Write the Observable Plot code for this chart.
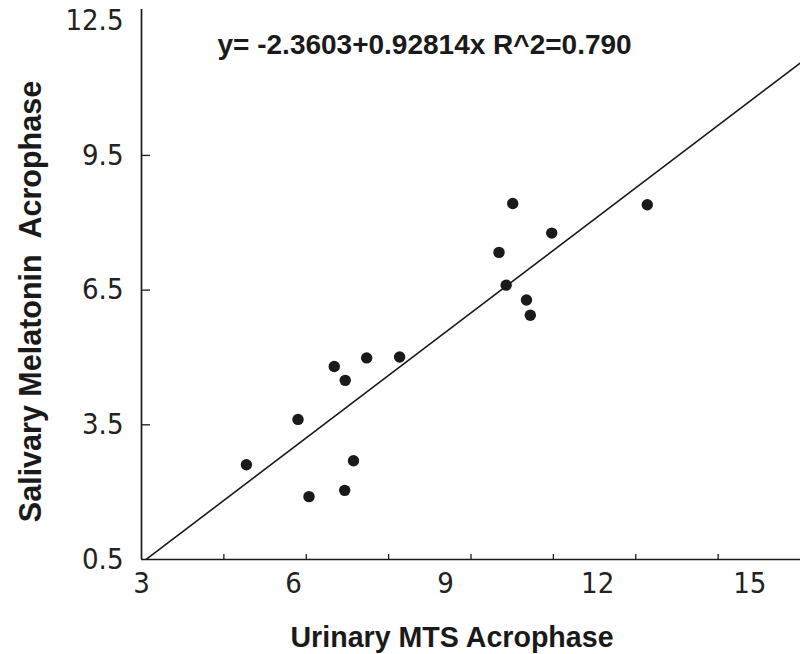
<!DOCTYPE html>
<html>
<head>
<meta charset="utf-8">
<script src="https://cdn.jsdelivr.net/npm/d3@7"></script>
<script src="https://cdn.jsdelivr.net/npm/@observablehq/plot@0.6"></script>
<style>
  body { margin: 0; background: #fff; }
  #chart svg { display: block; }
</style>
</head>
<body>
<div id="chart"></div>
<script>
// Data
const urinaryMTS  = [4.91, 5.85, 6.05, 6.51, 6.71, 6.70, 6.86, 7.10, 7.70, 9.51, 9.76, 9.64, 10.01, 10.08, 10.47, 12.21];
const salivaryMel = [2.61, 3.62, 1.90, 4.80, 4.49, 2.04, 2.70, 4.99, 5.01, 7.34, 8.43, 6.61, 6.28, 5.94, 7.77, 8.40];

const xTickMarks  = [4.5, 6, 7.5, 9, 10.5, 12, 13.5];
const xTickLabels = [3, 6, 9, 12, 15];
const yTickMarks  = [3.5, 6.5, 9.5];
const yTickLabels = [0.5, 3.5, 6.5, 9.5, 12.5];

const intercept = -2.3603;
const slope = 0.92814;
const rSquared = "0.790";
const fitRange = [3, 15];

const xTitle = "Urinary MTS Acrophase";
const yTitle = "Salivary Melatonin\u00a0 Acrophase";
const equation = `y= ${intercept}+${slope}x R^2=${rSquared}`;

// Build tables
const points = urinaryMTS.map((x, i) => ({x, y: salivaryMel[i]}));
const fit = fitRange.map(x => ({x, y: intercept + slope * x}));

const ink = "#1a1a1a";
const narrow = "'Liberation Sans Narrow', 'DejaVu Sans Condensed', 'Liberation Sans', sans-serif";
const boldFont = "'Liberation Sans', Arial, Helvetica, sans-serif";
const labelSpread = 0.923; // the reference's x labels drift left of their ticks

const chart = Plot.plot({
  width: 800,
  height: 654,
  marginLeft: 141,
  marginRight: 0,
  marginTop: 9,
  marginBottom: 95,
  x: {domain: [3, 15]},
  y: {domain: [0.5, 12.75]},
  style: {background: "#fff", color: ink},
  marks: [
    Plot.ruleX([3], {stroke: ink, strokeWidth: 1.7}),
    Plot.ruleY([0.5], {stroke: ink, strokeWidth: 1.7}),
    Plot.axisX({ticks: xTickMarks, tickSize: -5, tickFormat: () => "", color: ink, strokeWidth: 1.3, label: null}),
    Plot.axisY({ticks: yTickMarks, tickSize: -9, tickFormat: () => "", color: ink, strokeWidth: 1.3, label: null}),
    Plot.axisY({ticks: yTickLabels, tickSize: 0, tickPadding: 18, fontSize: 29, fontFamily: narrow,
                color: "#222", label: null, tickFormat: d => d.toFixed(1)}),
    Plot.text(xTickLabels, {
      x: d => 3 + (d - 3) * labelSpread, y: 0.5, dy: 24, text: d => String(d),
      fontSize: 29, fontFamily: narrow, fill: "#222", lineAnchor: "middle"
    }),
    Plot.line(fit, {x: "x", y: "y", stroke: ink, strokeWidth: 1.6, clip: true}),
    Plot.dot(points, {x: "x", y: "y", r: 5.7, fill: ink, stroke: null}),
    Plot.text([equation], {
      frameAnchor: "top-left", dx: 76, dy: 36, textAnchor: "start", lineAnchor: "middle",
      fontSize: 28, fontWeight: "bold", fontFamily: boldFont, fill: ink
    }),
    Plot.text([xTitle], {
      frameAnchor: "bottom", dx: -19, dy: 78, lineAnchor: "middle",
      fontSize: 28.6, fontWeight: "bold", fontFamily: boldFont, fill: ink
    }),
    Plot.text([yTitle], {
      frameAnchor: "left", dx: -110, dy: 17, rotate: -90, lineAnchor: "middle", textAnchor: "middle",
      fontSize: 30.5, fontWeight: "bold", fontFamily: boldFont, fill: ink
    })
  ]
});

document.getElementById("chart").append(chart);
</script>
</body>
</html>
